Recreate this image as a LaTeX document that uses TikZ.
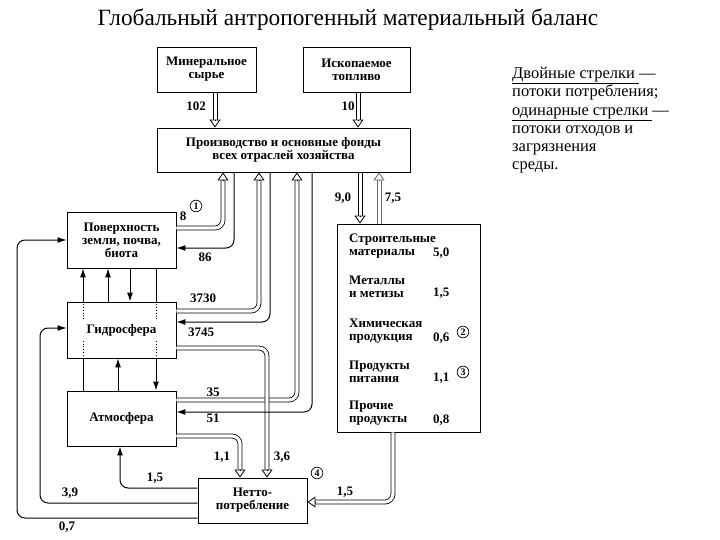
\documentclass[tikz,border=0pt]{standalone}
\usepackage{fontspec}
\setmainfont{Liberation Serif}
\usetikzlibrary{arrows.meta,calc}
% #1 start, #2 path operation, #3 end point on the target box, #4 offset of the tip base
\newcommand\DArr[4]{%
  \draw[dbl] #1 #2 ($#3+#4$);
  \draw[htip] ($#3+#4$) -- #3;}
% straight version drawn as two parallel lines: #1 start, #2 end, #3 tip offset
\newcommand\SArr[3]{%
  \draw[dline] ($#1+(2,0)$) -- ($#2+#3+(2,0)$);
  \draw[dline] ($#1+(-2,0)$) -- ($#2+#3+(-2,0)$);
  \draw[htip] ($#2+#3$) -- #2;}
\begin{document}
\begin{tikzpicture}[x=1pt,y=-1pt,
  box/.style={draw, line width=0.9pt, rectangle, inner sep=0pt, align=center,
    font=\bfseries\fontsize{13}{13}\selectfont},
  dbl/.style={draw, double=white, double distance=3.2pt, line width=0.8pt,
    rounded corners=8pt},
  dline/.style={line width=0.8pt},
  htip/.style={line width=0.8pt, -{Triangle[open, length=8pt, width=11pt]}},
  sgl/.style={line width=1pt, rounded corners=8pt, -{Latex[length=9pt,width=6pt]}},
  pln/.style={line width=1pt},
  dots/.style={line width=0.8pt, dotted},
  lbl/.style={font=\bfseries\fontsize{13}{13}\selectfont, inner sep=0pt},
  circ/.style={circle, draw, line width=0.7pt, inner sep=1.2pt,
    font=\bfseries\fontsize{10}{10}\selectfont},
  item/.style={anchor=west, align=left, inner sep=0pt,
    font=\bfseries\fontsize{13}{13}\selectfont}]
\useasboundingbox (0,0) rectangle (720,540);

\node[font=\fontsize{23.3}{27}\selectfont] (title) at (348,20)
  {Глобальный антропогенный материальный баланс};

\node[anchor=north west, align=left, inner sep=0pt,
  font=\fontsize{16.5}{18.3}\selectfont] (legend) at (512,67)
  {\underline{Двойные стрелки\ }—\\
   потоки потребления;\\
   \underline{одинарные стрелки\ }—\\
   потоки отходов и\\
   загрязнения\\
   среды.};

% boxes
\node[box, minimum width=99pt, minimum height=45pt] (min) at (206.5,69.5) {Минеральное\\сырье};
\node[box, minimum width=107pt, minimum height=45pt] (fuel) at (356.5,69.5) {Ископаемое\\топливо};
\node[box, minimum width=253pt, minimum height=44pt] (prod) at (283.5,150) {Производство и основные фонды\\всех отраслей хозяйства};
\node[box, minimum width=109pt, minimum height=56pt] (surf) at (121.5,240) {Поверхность\\земли, почва,\\биота};
\node[box, minimum width=109pt, minimum height=56pt] (hydro) at (121.5,330) {Гидросфера};
\node[box, minimum width=109pt, minimum height=55pt] (atm) at (121.5,418.5) {Атмосфера};
\node[box, minimum width=109pt, minimum height=45pt] (net) at (252.5,500.5) {Нетто-\\потребление};
\node[box, minimum width=143pt, minimum height=208pt] (goods) at (408.5,328) {};

% goods list
\node[item] (g1) at (349,246.5) {Строительные\\материалы};
\node[item] (v1) at (433,253) {5,0};
\node[item] (g2) at (349,286.5) {Металлы\\и метизы};
\node[item] (v2) at (433,293) {1,5};
\node[item] (g3) at (349,331.5) {Химическая\\продукция};
\node[item] (v3) at (433,338) {0,6};
\node[circ] (c2) at (463,332) {2};
\node[item] (g4) at (349,371.5) {Продукты\\питания};
\node[item] (v4) at (433,378) {1,1};
\node[circ] (c3) at (463,372) {3};
\node[item] (g5) at (349,413.5) {Прочие\\продукты};
\node[item] (v5) at (433,420) {0,8};

% double arrows (consumption)
\SArr{(min.south -| 215,0)}{(prod.north -| 215,0)}{(0,-8)}
\SArr{(fuel.south -| 358,0)}{(prod.north -| 358,0)}{(0,-8)}
\DArr{(surf.east |- 0,228)}{-|}{(prod.south -| 223,0)}{(0,8)}
\DArr{(hydro.east |- 0,311)}{-|}{(prod.south -| 259,0)}{(0,8)}
\DArr{(atm.east |- 0,400)}{-|}{(prod.south -| 297,0)}{(0,8)}
\DArr{(hydro.east |- 0,348)}{-|}{(net.north -| 267,0)}{(0,-8)}
\DArr{(atm.east |- 0,436)}{-|}{(net.north -| 240,0)}{(0,-8)}
\SArr{(prod.south -| 360,0)}{(goods.north -| 360,0)}{(0,-8)}
\begin{scope}[black!60]
\SArr{(goods.north -| 379,0)}{(prod.south -| 379,0)}{(0,8)}
\end{scope}
\DArr{(goods.south -| 393,0)}{|-}{(net.east |- 0,502)}{(8,0)}

% single arrows (waste)
\draw[sgl] (prod.south -| 234,0) |- (surf.east |- 0,248);
\draw[sgl] (prod.south -| 270,0) |- (hydro.east |- 0,322);
\draw[sgl] (prod.south -| 312,0) |- (atm.east |- 0,412);
\draw[sgl] (net.west |- 0,488) -| (atm.south -| 120,0);
\draw[sgl] (net.west |- 0,503) -| (40,328) -- (hydro.west |- 0,328);
\draw[sgl] (net.west |- 0,518) -| (17,240) -- (surf.west |- 0,240);

% vertical links between spheres (dotted where they pass the hydrosphere box)
\coordinate (gapT) at (0,319);
\coordinate (gapB) at (0,341);
\draw[pln] (atm.north -| 83,0) -- (hydro.south -| 83,0);
\draw[dots] (hydro.south -| 83,0) -- (gapB -| 83,0);
\draw[dots] (gapT -| 83,0) -- (hydro.north -| 83,0);
\draw[sgl] (hydro.north -| 83,0) -- (surf.south -| 83,0);
\draw[sgl] (hydro.north -| 108,0) -- (surf.south -| 108,0);
\draw[sgl] (surf.south -| 130,0) -- (hydro.north -| 130,0);
\draw[pln] (surf.south -| 156,0) -- (hydro.north -| 156,0);
\draw[dots] (hydro.north -| 156,0) -- (gapT -| 156,0);
\draw[dots] (gapB -| 156,0) -- (hydro.south -| 156,0);
\draw[sgl] (hydro.south -| 156,0) -- (atm.north -| 156,0);
\draw[sgl] (atm.north -| 118,0) -- (hydro.south -| 118,0);

% labels
\node[lbl] (l102) at (196,106) {102};
\node[lbl] (l10) at (348,106) {10};
\node[lbl] (l8) at (183,216) {8};
\node[circ] (c1) at (196,206) {1};
\node[lbl] (l86) at (205,257) {86};
\node[lbl] (l3730) at (203,298) {3730};
\node[lbl] (l3745) at (201,332) {3745};
\node[lbl] (l35) at (213,392) {35};
\node[lbl] (l51) at (213,418) {51};
\node[lbl] (l11) at (222,457) {1,1};
\node[lbl] (l36) at (282,457) {3,6};
\node[lbl] (l15a) at (155,478) {1,5};
\node[lbl] (l39) at (70,493) {3,9};
\node[lbl] (l07) at (67,527) {0,7};
\node[lbl] (l15b) at (345,492) {1,5};
\node[circ] (c4) at (317,473) {4};
\node[lbl] (l90) at (343,198) {9,0};
\node[lbl] (l75) at (393,198) {7,5};
\end{tikzpicture}
\end{document}
